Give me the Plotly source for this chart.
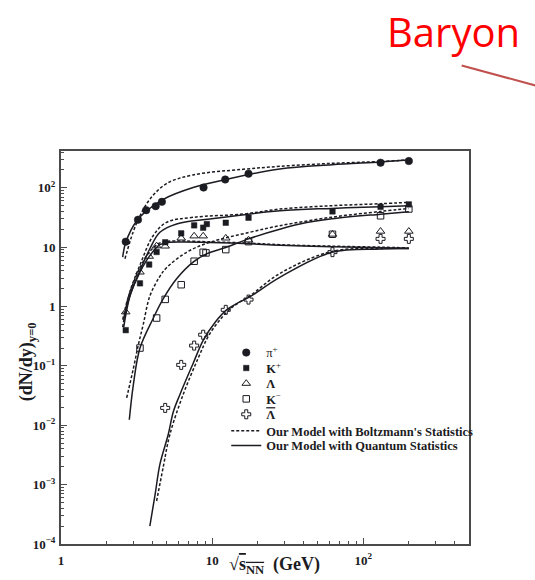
import plotly.graph_objects as go

# ---- measured yields dN/dy at mid-rapidity ----
pi_x = [2.68, 3.23, 3.66, 4.23, 4.65, 8.77, 12.2, 17.4, 130, 200]
pi_y = [12.4, 29, 42, 49, 58, 101, 138, 173, 265, 282]

kp_x = [2.68, 3.33, 3.83, 4.29, 4.89, 6.24, 7.6, 8.72, 9.22, 12.3, 17.4, 62.5, 130, 200]
kp_y = [0.40, 2.46, 5.1, 8.3, 12.1, 17.1, 23.3, 21.3, 24.5, 25.8, 31.3, 40, 47.9, 52.5]

lam_x = [2.68, 3.33, 3.83, 4.29, 4.89, 6.24, 7.6, 8.72, 12.3, 17.4, 62.5, 130, 200]
lam_y = [0.81, 3.8, 7.0, 10.5, 10.4, 14.2, 15.4, 15.4, 14.2, 13.2, 16.5, 18.5, 18.5]

km_x = [3.33, 4.29, 4.89, 6.24, 7.6, 8.72, 9.1, 12.3, 17.4, 62.5, 130, 200]
km_y = [0.2, 0.64, 1.32, 2.33, 5.8, 8.2, 8.0, 9.1, 12.4, 16.5, 33.8, 44]

alam_x = [4.89, 6.24, 7.6, 8.72, 12.3, 17.4, 62.5, 130, 200]
alam_y = [0.0196, 0.104, 0.22, 0.335, 0.88, 1.31, 8.25, 13.8, 13.8]

# ---- model curves: Boltzmann (dashed) and quantum (solid) statistics ----
pi_q_x = [2.56, 2.68, 3.17, 3.69, 4.75, 7.48, 12.45, 28, 62, 130, 200]
pi_q_y = [6.8, 12, 27.9, 41, 64, 101, 139, 208, 245, 272, 293]
pi_b_x = [2.65, 3.0, 3.33, 3.87, 4.99, 7.48, 16.0, 28, 62, 130, 200]
pi_b_y = [6.4, 18, 33.8, 64, 118, 165, 205, 230, 258, 278, 295]

kp_q_x = [2.6, 2.86, 3.33, 3.87, 4.51, 5.82, 9.66, 28, 62, 130, 200]
kp_q_y = [0.45, 1.5, 4.0, 9.4, 17.8, 24.6, 29.8, 41, 45, 48, 50]
kp_b_x = [2.56, 2.8, 3.33, 4.07, 4.99, 7.48, 16.0, 28, 62, 130, 200]
kp_b_y = [0.45, 1.5, 5.0, 15.6, 26.2, 31.8, 36.1, 43.8, 50, 54, 57]

lam_q_x = [2.6, 2.86, 3.33, 3.87, 4.51, 5.12, 6.43, 9.66, 17.7, 28, 62, 130, 200]
lam_q_y = [0.6, 1.55, 3.8, 7.2, 11.0, 12.0, 12.2, 12.0, 11.4, 10.8, 10.2, 9.8, 9.5]
lam_b_x = [2.56, 2.8, 3.33, 3.87, 4.51, 5.12, 6.43, 9.66, 17.7, 28, 62, 130, 200]
lam_b_y = [0.6, 1.5, 4.5, 8.5, 11.8, 12.6, 12.7, 12.3, 11.7, 11.0, 10.4, 10.0, 9.7]

km_q_x = [2.83, 3.01, 3.33, 4.07, 4.75, 5.82, 7.48, 9.18, 12.45, 17.4, 28, 38, 62, 130, 200]
km_q_y = [0.0124, 0.048, 0.2, 0.63, 1.36, 2.94, 5.6, 7.7, 10, 13.8, 20, 24.5, 30, 36, 39.5]
km_b_x = [2.72, 3.01, 3.24, 3.5, 3.87, 4.5, 4.99, 6.77, 9.66, 17.7, 28, 62, 130, 200]
km_b_y = [0.029, 0.09, 0.22, 0.5, 1.5, 3.2, 4.5, 8.2, 12.1, 17.8, 23, 32, 40, 45]

alam_q_x = [3.87, 4.2, 4.51, 5.12, 5.54, 6.12, 7.48, 8.72, 10.5, 12.45, 14.5, 17.7, 28, 62, 130, 200]
alam_q_y = [2.0e-4, 7e-4, 2.2e-3, 7e-3, 0.017, 0.033, 0.11, 0.27, 0.55, 0.88, 1.12, 1.45, 3.1, 8.2, 9.3, 9.5]
alam_b_x = [4.29, 4.75, 5.25, 6.43, 8.08, 9.66, 12.45, 14.5, 17.7, 28, 62, 130, 200]
alam_b_y = [5.3e-4, 2e-3, 7e-3, 0.033, 0.135, 0.35, 0.8, 1.1, 1.5, 3.6, 8.5, 9.5, 9.6]

y_tick_vals = [1e-4, 1e-3, 1e-2, 1e-1, 1, 10, 100]
y_tick_text = ["10<sup>−4</sup>", "10<sup>−3</sup>", "10<sup>−2</sup>", "10<sup>−1</sup>",
               "1", "10", "10<sup>2</sup>"]
x_tick_vals = [1, 10, 100]
x_tick_text = ["1", "10", "10<sup>2</sup>"]

INK = "#1b1b22"
FRAME = "#4a4a4a"
SERIF = "Liberation Serif"

# plot area in pixels (used to place the stacked key entries)
PLOT_TOP, PLOT_BOTTOM = 151, 546
KEY_ROWS_PX = [354, 369.5, 385, 400.5, 416, 432.5, 447.5]
KEY_LEFT = 0.405

fig = go.Figure()

# model curves
dash_style = "3px,2px"
curves = [
    (pi_b_x, pi_b_y, pi_q_x, pi_q_y),
    (kp_b_x, kp_b_y, kp_q_x, kp_q_y),
    (lam_b_x, lam_b_y, lam_q_x, lam_q_y),
    (km_b_x, km_b_y, km_q_x, km_q_y),
    (alam_b_x, alam_b_y, alam_q_x, alam_q_y),
]
for i, (bx, by, qx, qy) in enumerate(curves):
    fig.add_trace(go.Scatter(
        x=bx, y=by, mode="lines",
        line=dict(color=INK, width=1.5, dash=dash_style, shape="spline", smoothing=1.0),
        name="<b>Our Model with Boltzmann's Statistics</b>", showlegend=(i == 0),
        legend="legend6", hoverinfo="skip"))
    fig.add_trace(go.Scatter(
        x=qx, y=qy, mode="lines",
        line=dict(color=INK, width=1.5, shape="spline", smoothing=1.0),
        name="<b>Our Model with Quantum Statistics</b>", showlegend=(i == 0),
        legend="legend7", hoverinfo="skip"))

# data points
points = [
    (pi_x, pi_y, "π<sup>+</sup>", "circle", 7.5, 0.5, "legend"),
    (kp_x, kp_y, "<b>K</b><sup>+</sup>", "square", 5.5, 0.5, "legend2"),
    (lam_x, lam_y, "<b>Λ</b>", "triangle-up-open", 7.5, 1.0, "legend3"),
    (km_x, km_y, "<b>K</b><sup>−</sup>", "square-open", 6.5, 1.0, "legend4"),
    (alam_x, alam_y, "<b><span style='text-decoration:overline'>Λ</span></b>",
     "cross-open", 7.5, 1.0, "legend5"),
]
for x, y, name, sym, size, lw, leg in points:
    fig.add_trace(go.Scatter(
        x=x, y=y, mode="markers", name=name, legend=leg, showlegend=True,
        marker=dict(symbol=sym, size=size, color=INK, line=dict(color=INK, width=lw))))

minor_x = [m * 10 ** d for d in range(0, 3) for m in range(2, 10)]
minor_y = [m * 10 ** d for d in range(-4, 3) for m in range(2, 10)]

fig.update_xaxes(
    type="log", range=[0, 2.699], tickvals=x_tick_vals, ticktext=x_tick_text,
    ticks="inside", ticklen=6, tickwidth=1, tickcolor=FRAME,
    minor=dict(tickvals=minor_x, ticks="inside", ticklen=3, tickcolor=FRAME, showgrid=False),
    showline=True, linecolor=FRAME, linewidth=2, mirror=True, showgrid=False, zeroline=False,
    tickfont=dict(family=SERIF, size=13, color=INK, weight="bold"), ticklabelstandoff=3)
fig.update_yaxes(
    type="log", range=[-4, 2.62], tickvals=y_tick_vals, ticktext=y_tick_text,
    ticks="inside", ticklen=6, tickwidth=1, tickcolor=FRAME,
    minor=dict(tickvals=minor_y, ticks="inside", ticklen=3, tickcolor=FRAME, showgrid=False),
    showline=True, linecolor=FRAME, linewidth=2, mirror=True, showgrid=False, zeroline=False,
    tickfont=dict(family=SERIF, size=13, color=INK, weight="bold"), ticklabelstandoff=1)

legend_names = ["legend"] + [f"legend{k}" for k in range(2, 8)]
legend_layout = {}
for name, ypx in zip(legend_names, KEY_ROWS_PX):
    legend_layout[name] = dict(
        x=KEY_LEFT, y=(PLOT_BOTTOM - ypx) / (PLOT_BOTTOM - PLOT_TOP),
        xanchor="left", yanchor="middle",
        bgcolor="rgba(0,0,0,0)", borderwidth=0,
        font=dict(family=SERIF, size=12.5, color=INK))

fig.update_layout(
    width=535, height=580,
    margin=dict(l=61, r=66, t=151, b=34),
    paper_bgcolor="white", plot_bgcolor="white",
    showlegend=True,
    annotations=[
        dict(text="<b>(dN/dy)<sub>y=0</sub></b>", xref="paper", yref="paper",
             x=-0.083, y=0.463, xanchor="center", yanchor="middle", textangle=-90,
             showarrow=False, font=dict(family=SERIF, size=18, color=INK)),
        dict(text="<b>√<span style='text-decoration:overline'>s<sub>NN</sub></span>  (GeV)</b>",
             xref="paper", yref="paper", x=0.5245, y=-0.055, xanchor="center", yanchor="middle",
             showarrow=False, font=dict(family=SERIF, size=18, color=INK)),
        dict(text="Baryon", xref="paper", yref="paper", x=0.963, y=1.304,
             xanchor="center", yanchor="middle", showarrow=False,
             font=dict(family="Open Sans", size=40, color="#ff0000")),
    ],
    shapes=[
        dict(type="line", xref="paper", yref="paper", x0=0.982, y0=1.2177, x1=1.174, y1=1.1635,
             line=dict(color="#c0504d", width=2)),
    ],
    **legend_layout,
)

fig.write_html("out.html")
